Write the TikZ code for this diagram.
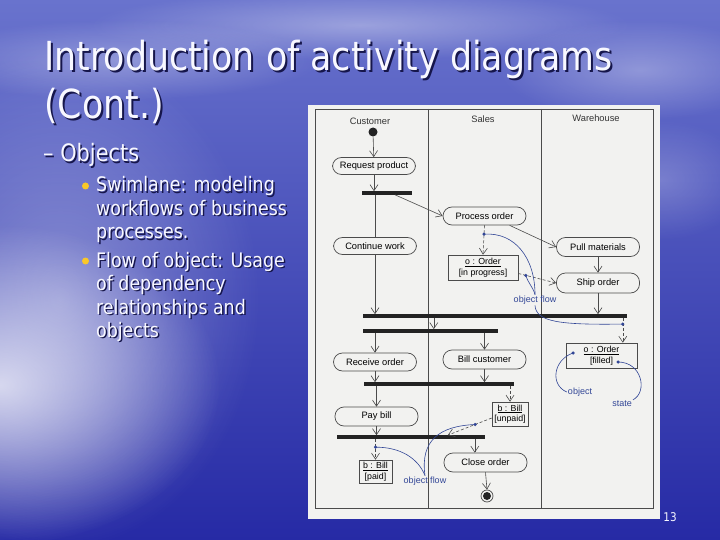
\documentclass[tikz,border=0pt]{standalone}
\usepackage{fontspec}
\usetikzlibrary{arrows.meta,calc,fadings}
\newfontfamily\slidefont[FakeStretch=0.87]{DejaVu Sans}
\newfontfamily\diafont{Liberation Sans}
\definecolor{bgtop}{RGB}{105,115,205}
\definecolor{bgmid}{RGB}{68,78,185}
\definecolor{bgbot}{RGB}{38,42,165}
\definecolor{shadowc}{RGB}{22,22,75}
\definecolor{paper}{RGB}{242,242,240}
\definecolor{ink}{RGB}{75,75,75}
\definecolor{barc}{RGB}{35,35,35}
\definecolor{noteblue}{RGB}{50,70,150}
\definecolor{bulletc}{RGB}{250,200,40}
\definecolor{slidetxt}{RGB}{248,248,255}
\tikzfading[name=softedge, inner color=transparent!0, outer color=transparent!100]
\begin{document}
\begin{tikzpicture}[x=1pt,y=-1pt,
  act/.style={draw=ink, line width=0.7pt, fill=paper, rounded corners=9pt, minimum width=83pt, minimum height=18pt, inner sep=1pt, font=\diafont\fontsize{9.3}{11}\selectfont},
  objbox/.style={draw=ink, line width=0.6pt, fill=paper, align=center, inner sep=1.5pt, font=\diafont\fontsize{8.8}{10.5}\selectfont},
  syncbar/.style={fill=barc, inner sep=0pt, minimum height=3.3pt},
  flow/.style={draw=ink, line width=0.6pt, -{Straight Barb[length=6pt,width=8pt]}},
  oflow/.style={flow, dash pattern=on 3pt off 2pt},
  note/.style={draw=noteblue, line width=0.6pt},
  notedot/.style={circle, fill=noteblue, inner sep=0pt, minimum size=3.5pt},
  notetxt/.style={text=noteblue, font=\diafont\fontsize{9}{10}\selectfont, inner sep=1pt},
  header/.style={font=\diafont\fontsize{9.3}{11}\selectfont, text=black!80},
  titletxt/.style={font=\slidefont\fontsize{40}{48}\selectfont, anchor=base west, inner sep=0pt},
  subtxt/.style={font=\slidefont\fontsize{24}{28}\selectfont, anchor=base west, inner sep=0pt},
  bultxt/.style={font=\slidefont\fontsize{20}{24}\selectfont, anchor=base west, inner sep=0pt}
]
\useasboundingbox (0,0) rectangle (720,540);
% background
\shade[top color=bgtop, middle color=bgmid, bottom color=bgbot] (0,0) rectangle (720,540);
\fill[white, opacity=0.35, path fading=softedge] (360,25) ellipse (270 and 35);
\fill[white, opacity=0.30, path fading=softedge] (120,60) ellipse (200 and 40);
\fill[white, opacity=0.30, path fading=softedge] (640,70) ellipse (140 and 50);
\fill[white, opacity=0.22, path fading=softedge] (660,180) ellipse (90 and 60);
\fill[white, opacity=0.35, path fading=softedge] (60,300) ellipse (200 and 250);
\fill[white, opacity=0.75, path fading=softedge] (0,385) ellipse (220 and 160);

% title and bullets (shadow, then text)
\foreach \dx/\col [count=\i] in {2/shadowc, 0/slidetxt} {
  \node[titletxt, text=\col] (title1-\i) at (44+\dx,71+\dx) {Introduction of activity diagrams};
  \node[titletxt, text=\col] (title2-\i) at (44+\dx,119+\dx) {(Cont.)};
}
\foreach \dx/\col [count=\i] in {1.5/shadowc, 0/slidetxt} {
  \node[subtxt, text=\col] (sub-\i) at (43+\dx,162+\dx) {– Objects};
  \node[bultxt, text=\col] (l1-\i) at (96+\dx,192+\dx) {Swimlane: modeling};
  \node[bultxt, text=\col] (l2-\i) at (96+\dx,215+\dx) {workflows of business};
  \node[bultxt, text=\col] (l3-\i) at (96+\dx,239+\dx) {processes.};
  \node[bultxt, text=\col] (l4-\i) at (96+\dx,267+\dx) {Flow of object: Usage};
  \node[bultxt, text=\col] (l5-\i) at (96+\dx,290+\dx) {of dependency};
  \node[bultxt, text=\col] (l6-\i) at (96+\dx,314+\dx) {relationships and};
  \node[bultxt, text=\col] (l7-\i) at (96+\dx,337+\dx) {objects};
}
\node[circle, fill=bulletc, inner sep=0pt, minimum size=7pt] (bul1) at (85.5,186) {};
\node[circle, fill=bulletc, inner sep=0pt, minimum size=7pt] (bul2) at (85.5,261) {};
\node[font=\slidefont\fontsize{12}{14}\selectfont, text=slidetxt] (pnum) at (670,517) {13};

% diagram paper and swimlanes
\fill[paper] (308,105) rectangle (660,519);
\draw[ink, line width=0.6pt] (315,109) rectangle (653,508);
\draw[ink, line width=0.6pt] (428,109) -- (428,508);
\draw[ink, line width=0.6pt] (541,109) -- (541,508);
\node[header] (hcust) at (370,121) {Customer};
\node[header] (hsales) at (483,119) {Sales};
\node[header] (hware) at (596,118) {Warehouse};

% nodes
\node[circle, fill=barc, inner sep=0pt, minimum size=9pt] (start) at (373,132) {};
\node[act, minimum height=17pt] (req) at (374,166) {Request product};
\node[syncbar, minimum width=50pt] (b1) at (387,193) {};
\node[act, minimum height=17pt] (cont) at (375,246) {Continue work};
\node[act] (proc) at (484.5,216) {Process order};
\node[act, minimum height=19pt] (pull) at (598,247) {Pull materials};
\node[act, minimum height=20pt] (ship) at (598,283) {Ship order};
\node[objbox, minimum width=70pt, minimum height=25pt] (oo1) at (483,267.5) {\underline{o : Order}\\{}[in progress]};
\node[syncbar, minimum width=264pt] (b2) at (495,316) {};
\node[syncbar, minimum width=135pt] (b3) at (430.5,331) {};
\node[objbox, minimum width=71pt, minimum height=25pt] (oo2) at (601.5,355.5) {\underline{o : Order}\\{}[filled]};
\node[act] (recv) at (375,362) {Receive order};
\node[act, minimum height=19pt] (bill) at (484.5,359.5) {Bill customer};
\node[syncbar, minimum width=150pt] (b4) at (439,384) {};
\node[act, minimum height=19pt] (pay) at (376.5,416.5) {Pay bill};
\node[objbox, minimum width=36pt, minimum height=24pt, inner sep=1pt] (ub) at (510,414) {\underline{b : Bill}\\{}[unpaid]};
\node[syncbar, minimum width=148pt] (b5) at (411,437) {};
\node[act, minimum height=19pt] (close) at (485.5,462.5) {Close order};
\node[objbox, minimum width=33pt, minimum height=23pt, inner sep=1pt] (pb) at (375.5,471.5) {\underline{b : Bill}\\{}[paid]};
\node[circle, draw=ink, line width=0.7pt, inner sep=0pt, minimum size=12pt] (endst) at (487,496) {};
\node[circle, fill=barc, inner sep=0pt, minimum size=8pt] (endin) at (endst) {};

% control flows
\draw[flow] (start) -- (req);
\draw[flow] (req.south) -- (req.south |- b1.north);
\draw[ink, line width=0.6pt] (cont.north |- b1.south) -- (cont.north);
\draw[flow] ($(b1.south west)!0.66!(b1.south east)$) -- (proc.west);
\draw[flow] ($(proc.south)!0.6!(proc.south east)$) -- (pull.west);
\draw[flow] (pull) -- (ship);
\draw[flow] (ship.south) -- (ship.south |- b2.north);
\draw[flow] (cont.south) -- (cont.south |- b2.north);
\coordinate (j3) at ($(b3.north west)+(71,0)$);
\draw[flow] (j3 |- b2.south) -- (j3);
\draw[flow] (recv.north |- b3.south) -- (recv.north);
\draw[flow] (bill.north |- b3.south) -- (bill.north);
\draw[flow] (recv.south) -- (recv.south |- b4.north);
\draw[flow] (bill.south) -- (bill.south |- b4.north);
\draw[flow] (pay.north |- b4.south) -- (pay.north);
\draw[flow] (pay.south) -- (pay.south |- b5.north);
\coordinate (j5b) at ($(b5.south west)+(138,0)$);
\draw[flow] (j5b) -- (j5b |- close.north);
\draw[flow] (close.south) -- (endst.north);

% object flows
\draw[oflow] (proc.south) -- (oo1.north);
\node[notedot] (d1) at ($(proc.south)!0.3!(oo1.north)$) {};
\coordinate (oo1out) at ($(oo1.east)+(0,6)$);
\draw[oflow] (oo1out) -- (ship.west);
\node[notedot] (d2) at ($(oo1out)!0.2!(ship.west)$) {};
\coordinate (j2) at ($(b2.south west)+(260,0)$);
\draw[oflow] (j2) -- (j2 |- oo2.north);
\node[notedot] (d3) at ($(j2)!0.25!(j2 |- oo2.north)$) {};
\draw[oflow] (ub.north |- b4.south) -- (ub.north);
\coordinate (ubout) at ($(ub.west)+(0,4)$);
\coordinate (j5) at ($(b5.north west)+(111,0)$);
\draw[oflow] (ubout) -- (j5);
\node[notedot] (d7) at ($(ubout)!0.38!(j5)$) {};
\draw[oflow] (pb.north |- b5.south) -- (pb.north);
\node[notedot] (d6) at ($(pb.north |- b5.south)!0.4!(pb.north)$) {};
\node[notedot] (d4) at (573,353) {};
\node[notedot] (d5) at (618,362) {};

% notes
\node[notetxt] (lbl1) at (535,300) {object flow};
\node[notetxt] (lbl2) at (425,481) {object flow};
\node[notetxt] (lbl3) at (580,392) {object};
\node[notetxt] (lbl4) at (622,404) {state};
\draw[note] (d1.center) .. controls (515,232) and (535,258) .. (lbl1.north);
\draw[note] (d2.center) .. controls (528,283) and (533,287) .. (lbl1.north);
\draw[note] (lbl1.south) .. controls (536,322) and (560,325) .. (d3.center);
\draw[note] (d4.center) .. controls (553,360) and (550,385) .. (lbl3.west);
\draw[note] (d5.center) .. controls (642,362) and (648,392) .. (lbl4.north east);
\draw[note] (d6.center) .. controls (400,447) and (418,458) .. (lbl2.north);
\draw[note] (d7.center) .. controls (440,426) and (420,440) .. (lbl2.north);
\end{tikzpicture}
\end{document}
